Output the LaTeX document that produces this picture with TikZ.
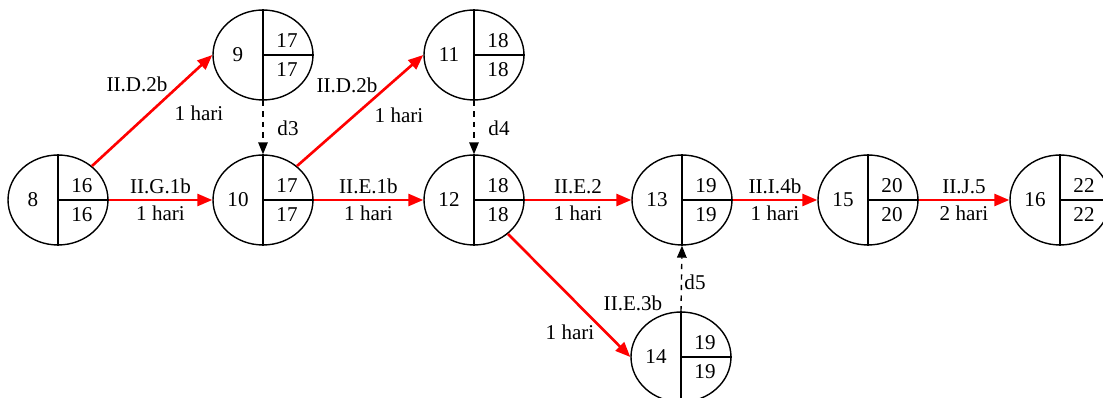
\documentclass[tikz,border=0pt]{standalone}
\usepackage{fontspec}
\setmainfont{Liberation Serif}
\usetikzlibrary{arrows.meta, positioning, calc, shapes.geometric}
\definecolor{critred}{RGB}{255, 0, 0}
\newcommand{\eventnode}[5]{%
  \node[evt] (#1) at (#2) {};
  \draw[divider] (#1.north) -- (#1.south);
  \draw[divider] (#1.center) -- (#1.east);
  \node (#1-no) at ($(#1.center)+(-25,0)$) {#3};
  \node (#1-es) at ($(#1.center)+(24,-14)$) {#4};
  \node (#1-lf) at ($(#1.center)+(24,15)$) {#5};
}

\begin{document}
\begin{tikzpicture}[
  x=0.02cm, y=-0.02cm,
  evt/.style={ellipse, draw, line width=0.8pt, minimum width=2cm, minimum height=1.8cm, inner sep=0pt},
  divider/.style={line width=1.1pt},
  crit/.style={-{Triangle[length=3mm, width=2.4mm]}, line width=1.5pt, critred},
  dummy/.style={-{Triangle[length=2.4mm, width=1.9mm]}, dashed, line width=0.8pt},
  lbl/.style={text=black, inner sep=2.5pt},
  every node/.style={font=\fontsize{12}{14}\selectfont}
]
  \useasboundingbox (0,0) rectangle (1103,398);

  \eventnode{n8}{58,200}{8}{16}{16}
  \eventnode{n9}{263,55}{9}{17}{17}
  \eventnode{n10}{263,200}{10}{17}{17}
  \eventnode{n11}{474,55}{11}{18}{18}
  \eventnode{n12}{474,200}{12}{18}{18}
  \eventnode{n13}{682,200}{13}{19}{19}
  \eventnode{n14}{681,357}{14}{19}{19}
  \eventnode{n15}{868,200}{15}{20}{20}
  \eventnode{n16}{1060,200}{16}{22}{22}

  \draw[crit] (n8.45) -- (n9.west);
  \node (l89a) at (137,84) {II.D.2b};
  \node (l89b) at (199,113) {1 hari};
  \draw[crit] (n8.east) -- node[lbl, above] (l810a) {II.G.1b} node[lbl, below] (l810b) {1 hari} (n10.west);
  \draw[dummy] (n9.south) -- (n10.north);
  \node (d3) at (288,128) {d3};
  \draw[crit] (n10.45) -- (n11.west);
  \node (l1011a) at (347,85) {II.D.2b};
  \node (l1011b) at (399,115) {1 hari};
  \draw[crit] (n10.east) -- node[lbl, above] (l1012a) {II.E.1b} node[lbl, below] (l1012b) {1 hari} (n12.west);
  \draw[dummy] (n11.south) -- (n12.north);
  \node (d4) at (499,128) {d4};
  \draw[crit] (n12.east) -- node[lbl, above] (l1213a) {II.E.2} node[lbl, below] (l1213b) {1 hari} (n13.west);
  \draw[crit] (n12.-45) -- (n14.west);
  \node (l1214a) at (633,303) {II.E.3b};
  \node (l1214b) at (570,332) {1 hari};
  \draw[dummy] (n14.north) -- (n13.south);
  \node (d5) at (695,282) {d5};
  \draw[crit] (n13.east) -- node[lbl, above] (l1315a) {II.I.4b} node[lbl, below] (l1315b) {1 hari} (n15.west);
  \draw[crit] (n15.east) -- node[lbl, above] (l1516a) {II.J.5} node[lbl, below] (l1516b) {2 hari} (n16.west);
\end{tikzpicture}
\end{document}
